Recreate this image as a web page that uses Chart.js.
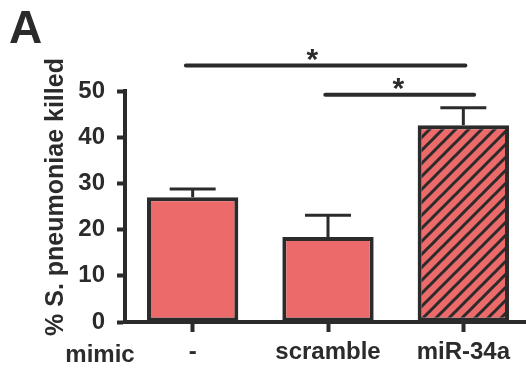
<!DOCTYPE html>
<html>
<head>
<meta charset="utf-8">
<script src="https://cdn.jsdelivr.net/npm/chart.js@4.4.1/dist/chart.umd.min.js"></script>
<style>
  html, body { margin: 0; padding: 0; background: #fff; overflow: hidden; }
  #wrap { width: 540px; height: 373px; }
</style>
</head>
<body>
<div id="wrap"><canvas id="killChart" width="540" height="373"></canvas></div>
<script>
// values
const categories = ["-", "scramble", "miR-34a"];
const killedMean = [27.0, 18.4, 42.6];
const killedErr = [1.8, 4.7, 3.8];
const yTicks = [0, 10, 20, 30, 40, 50];

// significance brackets (x in category index units, y in % killed)
const sigFrom = [-0.05, 0.98];
const sigTo = [2.015, 2.08];
const sigLevel = [55.5, 49.2];
const sigStarX = [0.885, 1.52];
const sigText = ["*", "*"];

const dark = "#2b2b2b";
const barRed = "#ec6a6a";
const fontFam = "'Liberation Sans', Arial, sans-serif";

// diagonal hatch for the miR-34a bar
function makeHatch(fill, line) {
    let c = document.createElement("canvas");
    c.width = 13;
    c.height = 13;
    let g = c.getContext("2d");
    g.fillStyle = fill;
    g.fillRect(0, 0, 13, 13);
    g.strokeStyle = line;
    g.lineWidth = 3;
    g.beginPath();
    g.moveTo(-3, 16); g.lineTo(16, -3);
    g.moveTo(-3, 3); g.lineTo(3, -3);
    g.moveTo(10, 16); g.lineTo(16, 10);
    g.stroke();
    return g.createPattern(c, "repeat");
}

const errorBars = {
    id: "errorBars",
    afterDatasetsDraw(chart) {
        let ctx = chart.ctx;
        let y = chart.scales.y;
        let meta = chart.getDatasetMeta(0);
        ctx.save();
        ctx.strokeStyle = dark;
        ctx.lineWidth = 3;
        meta.data.forEach((bar, i) => {
            let yBar = y.getPixelForValue(killedMean[i]);
            let yTop = y.getPixelForValue(killedMean[i] + killedErr[i]);
            ctx.beginPath();
            ctx.moveTo(bar.x, yBar);
            ctx.lineTo(bar.x, yTop);
            ctx.moveTo(bar.x - 23, yTop);
            ctx.lineTo(bar.x + 23, yTop);
            ctx.stroke();
        });
        ctx.restore();
    }
};

const annotations = {
    id: "annotations",
    afterDraw(chart) {
        let ctx = chart.ctx;
        let x = chart.scales.x;
        let y = chart.scales.y;
        ctx.save();
        ctx.fillStyle = dark;
        ctx.strokeStyle = dark;

        // significance lines + stars
        ctx.lineWidth = 4;
        ctx.lineCap = "round";
        for (let i = 0; i < sigLevel.length; i++) {
            let yy = y.getPixelForValue(sigLevel[i]);
            ctx.beginPath();
            ctx.moveTo(x.getPixelForValue(sigFrom[i]), yy);
            ctx.lineTo(x.getPixelForValue(sigTo[i]), yy);
            ctx.stroke();
            ctx.font = "bold 30px " + fontFam;
            ctx.textAlign = "center";
            ctx.textBaseline = "middle";
            ctx.fillText(sigText[i], x.getPixelForValue(sigStarX[i]), yy - 5);
        }

        // panel letter
        ctx.font = "bold 46px " + fontFam;
        ctx.textAlign = "left";
        ctx.textBaseline = "alphabetic";
        ctx.fillText("A", 9, 43);

        // row label for the x categories
        ctx.font = "bold 24px " + fontFam;
        ctx.textAlign = "center";
        ctx.textBaseline = "middle";
        ctx.fillText("mimic", 100, 355);

        // y axis title
        ctx.translate(56, 197);
        ctx.rotate(-Math.PI / 2);
        ctx.font = "bold 25px " + fontFam;
        ctx.fillText("% S. pneumoniae killed", 0, 0);
        ctx.restore();
    }
};

let ctx = document.getElementById("killChart").getContext("2d");

new Chart(ctx, {
    type: "bar",
    data: {
        labels: categories,
        datasets: [{
            data: killedMean,
            backgroundColor: [barRed, barRed, makeHatch(barRed, dark)],
            borderColor: dark,
            borderWidth: 4,
            borderSkipped: false,
            categoryPercentage: 1,
            barPercentage: 0.675
        }]
    },
    options: {
        responsive: false,
        animation: false,
        layout: { padding: { left: 0, right: 9, top: 91, bottom: 0 } },
        plugins: {
            legend: { display: false },
            tooltip: { enabled: false }
        },
        scales: {
            x: {
                afterFit(scale) { scale.height = 51; },
                grid: { drawOnChartArea: false, offset: false, tickLength: 10, tickWidth: 4, tickColor: dark },
                border: { display: true, width: 4, color: dark },
                ticks: { color: dark, padding: 6, font: { family: fontFam, size: 24, weight: "bold" } }
            },
            y: {
                min: yTicks[0],
                max: yTicks[yTicks.length - 1],
                afterFit(scale) { scale.width = 125; },
                afterBuildTicks(scale) { scale.ticks = yTicks.map(v => ({ value: v })); },
                grid: { drawOnChartArea: false, tickLength: 8, tickWidth: 4, tickColor: dark },
                border: { display: true, width: 4, color: dark },
                ticks: { color: dark, padding: 12, font: { family: fontFam, size: 24, weight: "bold" } }
            }
        }
    },
    plugins: [errorBars, annotations]
});
</script>
</body>
</html>
